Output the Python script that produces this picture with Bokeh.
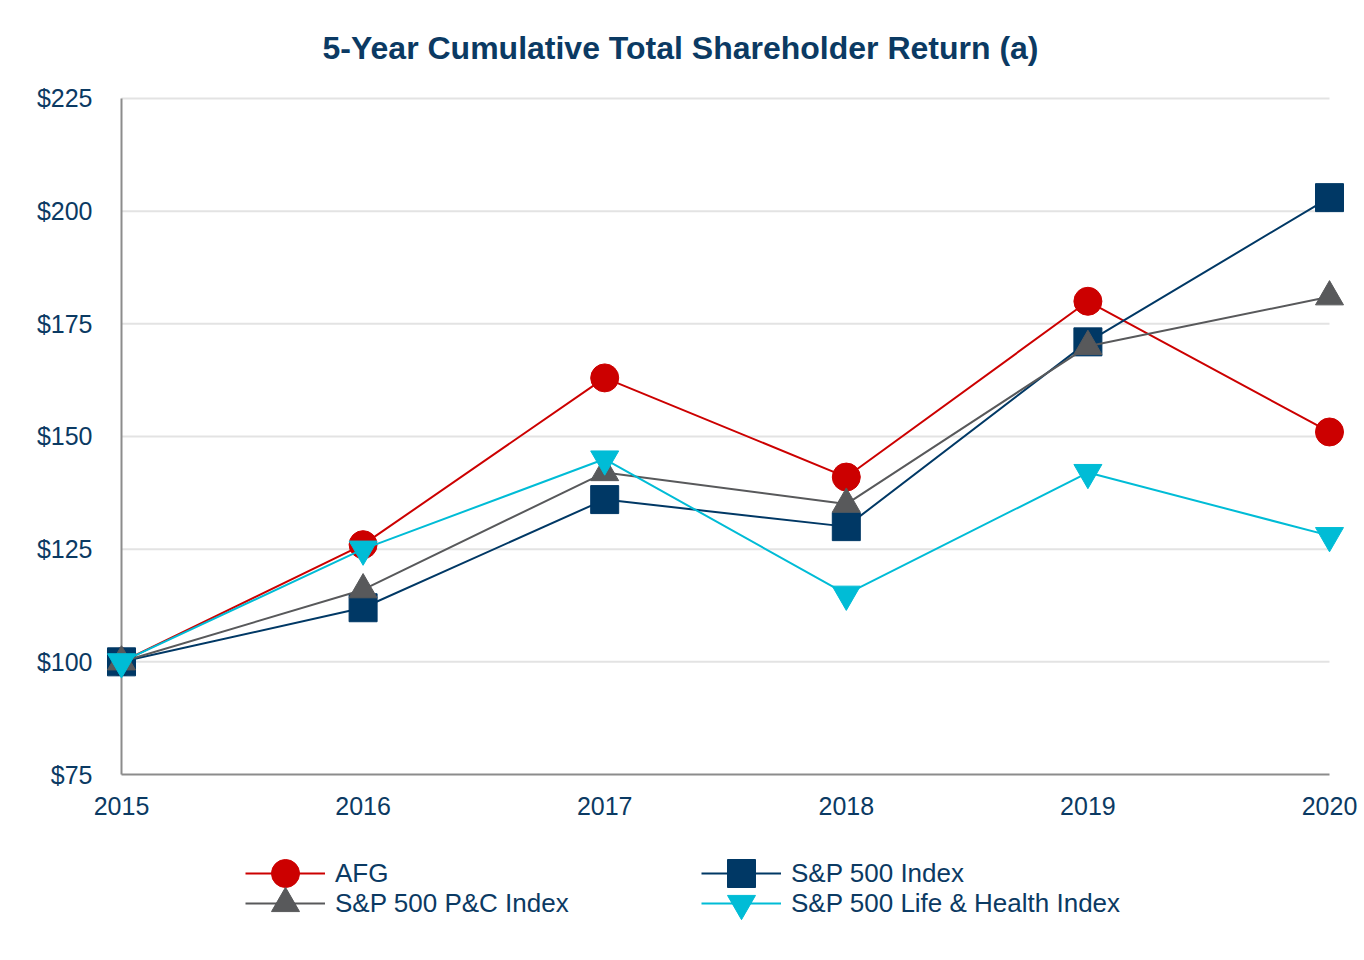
from bokeh.plotting import figure
from bokeh.models import Range1d, FixedTicker, Legend, LegendItem, CustomJSTickFormatter
from bokeh.core.properties import value
from bokeh.embed import file_html
from bokeh.resources import INLINE

years = [2015, 2016, 2017, 2018, 2019, 2020]
afg = [100, 126, 163, 141, 180, 151]
sp500 = [100, 112, 136, 130, 171, 203]
pc_index = [100, 116, 142, 135, 170, 181]
lh_index = [100, 125, 145, 115, 142, 128]
y_ticks = [75, 100, 125, 150, 175, 200, 225]
year_labels = [str(y) for y in years]

series = [
    ("AFG", afg, "#CC0000", "circle"),
    ("S&P 500 Index", sp500, "#003865", "square"),
    ("S&P 500 P&C Index", pc_index, "#58595B", "triangle"),
    ("S&P 500 Life & Health Index", lh_index, "#00BCD6", "inverted_triangle"),
]

TEXT = "#0B3A63"
AXIS = "#8C8C8C"
GRID = "#E3E3E3"
FONT = "Liberation Sans"

# layout (pixels)
W, H = 1362, 950
FL, FR, FT, FB = 92, 1360, 90, 940        # frame edges
X0_PX, X1_PX = 121, 1329                    # pixel columns of first / last year
AX_Y = 774                                  # pixel row of the $75 baseline
PX_PER_UNIT = 112.67 / 25
PX_PER_YEAR = (X1_PX - X0_PX) / (years[-1] - years[0])
x_start = years[0] - (X0_PX - FL) / PX_PER_YEAR
x_end = years[-1] + (FR - X1_PX) / PX_PER_YEAR
y_start = y_ticks[0] - (FB - AX_Y) / PX_PER_UNIT
y_end = y_ticks[0] + (AX_Y - FT) / PX_PER_UNIT

p = figure(width=W, height=H, output_backend="svg", toolbar_location=None,
           x_range=Range1d(x_start, x_end), y_range=Range1d(y_start, y_end),
           min_border_left=FL, min_border_right=W - FR, min_border_top=FT,
           min_border_bottom=H - FB)
p.outline_line_color = None
p.background_fill_color = "white"

p.title.text = "5-Year Cumulative Total Shareholder Return (a)"
p.title.align = "left"
p.title.offset = 322 - FL
p.title.text_font = FONT
p.title.text_font_size = "32px"
p.title.text_color = TEXT
p.title.text_font_style = "bold"
p.title.standoff = 49

p.xaxis.visible = False
p.yaxis.ticker = FixedTicker(ticks=y_ticks)
p.yaxis.formatter = CustomJSTickFormatter(code="return '$' + tick.toFixed(0);")
ya = p.yaxis[0]
ya.axis_line_color = None
ya.major_tick_line_color = None
ya.minor_tick_line_color = None
ya.major_tick_out = 0
ya.major_tick_in = 0
ya.major_label_text_font = FONT
ya.major_label_text_font_size = "25px"
ya.major_label_text_color = TEXT
ya.major_label_standoff = 0

p.xgrid.grid_line_color = None
p.ygrid.grid_line_color = None

# horizontal grid lines between first and last year
grid_vals = y_ticks[1:]
p.segment(x0=[years[0]] * len(grid_vals), x1=[years[-1]] * len(grid_vals),
          y0=grid_vals, y1=grid_vals, line_color=GRID, line_width=2, level="underlay")
# axis lines
p.segment(x0=[years[0], years[0]], x1=[years[0], years[-1]],
          y0=[y_ticks[0], y_ticks[0]], y1=[y_ticks[-1], y_ticks[0]],
          line_color=AXIS, line_width=2, level="underlay")
# year labels under the x axis line
p.text(x=years, y=[y_ticks[0]] * len(years), text=year_labels,
       text_align="center", text_baseline="middle", y_offset=31,
       text_font=value(FONT), text_font_size="25px", text_color=TEXT)

items = []
for name, vals, color, marker in series:
    l = p.line(years, vals, line_color=color, line_width=2)
    s = p.scatter(years, vals, marker=marker, size=28, fill_color=color, line_color=color)
    items.append(LegendItem(label=name, renderers=[l, s]))

common = dict(orientation="horizontal", glyph_width=80, glyph_height=70,
              spacing=0, label_standoff=10, label_width=366,
              label_text_font=FONT, label_text_font_size="26px",
              label_text_color=TEXT, border_line_color=None,
              background_fill_alpha=0, padding=0, margin=0)
LEG_X = 245
ROW1_TOP, ROW2_TOP = 873 - 35, 903 - 35
legend1 = Legend(items=items[:2], location=(LEG_X - FL, FB - ROW1_TOP - 70), **common)
legend2 = Legend(items=items[2:], location=(LEG_X - FL, FB - ROW2_TOP - 70), **common)
p.add_layout(legend1, "center")
p.add_layout(legend2, "center")

open("out.html", "w").write(file_html(p, INLINE))
